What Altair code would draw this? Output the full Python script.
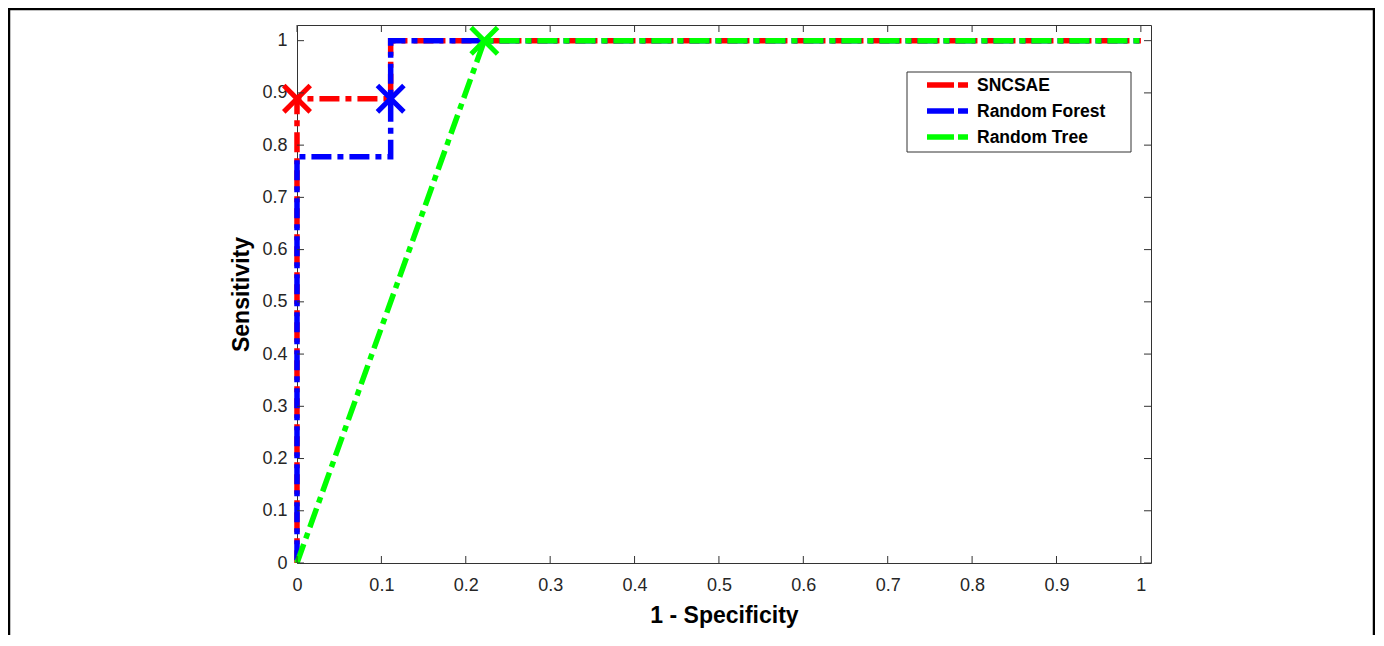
import altair as alt
import pandas as pd

# ---------------- data ----------------
series = ["SNCSAE", "Random Forest", "Random Tree"]
colors = ["#ff0000", "#0000ff", "#00ff00"]

sncsae_fpr = [0, 0, 0.111, 0.111, 1]
sncsae_tpr = [0, 0.889, 0.889, 1, 1]
rf_fpr = [0, 0, 0.111, 0.111, 1]
rf_tpr = [0, 0.778, 0.778, 1, 1]
rt_fpr = [0, 0.222, 1]
rt_tpr = [0, 1, 1]

marker_fpr = [0, 0.111, 0.222]
marker_tpr = [0.889, 0.889, 1]

tick_values = [0, 0.1, 0.2, 0.3, 0.4, 0.5, 0.6, 0.7, 0.8, 0.9, 1]

# ---------------- layout ----------------
W, H = 854, 538
FONT = "Liberation Sans"
TICK_LEN = 7
AXIS_COLOR = "#333333"
DASH = [20, 6, 6, 6]
dash_offsets = [45.2, 35.2, 0]   # phase of each series' dash pattern

xscale = alt.Scale(domain=[0, 1.012], nice=False, zero=False)
yscale = alt.Scale(domain=[0, 1.03], nice=False, zero=False)
xaxis = alt.Axis(values=tick_values, format="~g", title="1 - Specificity",
                 labelPadding=13, titlePadding=10, labelFlush=False)
yaxis = alt.Axis(values=tick_values, format="~g", title="Sensitivity",
                 labelPadding=10, titlePadding=8, labelFlush=False)
color_scale = alt.Scale(domain=series, range=colors)


def X(field="fpr"):
    return alt.X(f"{field}:Q", scale=xscale, axis=xaxis)


def Y(field="tpr"):
    return alt.Y(f"{field}:Q", scale=yscale, axis=yaxis)


def color():
    return alt.Color("series:N", scale=color_scale, legend=None)


def line_layer(name, fpr, tpr, offset):
    df = pd.DataFrame({"fpr": fpr, "tpr": tpr, "series": name,
                       "i": list(range(len(fpr)))})
    return alt.Chart(df).mark_line(
        strokeWidth=5.5, strokeDash=DASH, strokeDashOffset=offset,
        strokeCap="butt", strokeJoin="miter", clip=False
    ).encode(x=X(), y=Y(), color=color(), order="i:Q")


lines = [
    line_layer(series[0], sncsae_fpr, sncsae_tpr, dash_offsets[0]),
    line_layer(series[1], rf_fpr, rf_tpr, dash_offsets[1]),
    line_layer(series[2], rt_fpr, rt_tpr, dash_offsets[2]),
]

markers_df = pd.DataFrame({"fpr": marker_fpr, "tpr": marker_tpr, "series": series})
markers = alt.Chart(markers_df).mark_point(
    shape="M-1,-1L1,1M-1,1L1,-1", size=700, strokeWidth=5, filled=False,
    opacity=1, clip=False
).encode(x=X(), y=Y(), color=color())

# inward ticks on all four sides (MATLAB box style)
xt = pd.DataFrame({"fpr": tick_values})
yt = pd.DataFrame({"tpr": tick_values})
tick_bottom = alt.Chart(xt).mark_rule(color=AXIS_COLOR, strokeWidth=1).encode(
    x=X(), y=alt.value(H), y2=alt.value(H - TICK_LEN))
tick_top = alt.Chart(xt).mark_rule(color=AXIS_COLOR, strokeWidth=1).encode(
    x=X(), y=alt.value(0), y2=alt.value(TICK_LEN))
tick_left = alt.Chart(yt).mark_rule(color=AXIS_COLOR, strokeWidth=1).encode(
    y=Y(), x=alt.value(0), x2=alt.value(TICK_LEN))
tick_right = alt.Chart(yt).mark_rule(color=AXIS_COLOR, strokeWidth=1).encode(
    y=Y(), x=alt.value(W), x2=alt.value(W - TICK_LEN))

# legend (drawn manually, MATLAB style)
one = pd.DataFrame({"a": [0]})
legend_box = alt.Chart(one).mark_rect(
    fill="white", stroke=AXIS_COLOR, strokeWidth=1
).encode(x=alt.value(610), x2=alt.value(834), y=alt.value(47), y2=alt.value(127))
legend_layers = [legend_box]
row_y = [60, 86, 112]
for name, col, ry in zip(series, colors, row_y):
    d = pd.DataFrame({"label": [name]})
    legend_layers.append(
        alt.Chart(d).mark_rule(color=col, strokeWidth=5.5, strokeDash=[27, 4, 11, 4],
                               strokeCap="butt")
        .encode(x=alt.value(630), x2=alt.value(671), y=alt.value(ry)))
    legend_layers.append(
        alt.Chart(d).mark_text(align="left", baseline="middle", font=FONT,
                               fontSize=17.5, fontWeight="bold", color="black")
        .encode(x=alt.value(680), y=alt.value(ry + 1), text="label:N"))

# outer frame of the figure
frame = alt.Chart(one).mark_rect(
    fillOpacity=0, stroke="black", strokeWidth=2.5, clip=False
).encode(x=alt.value(-288), x2=alt.value(1077), y=alt.value(-16), y2=alt.value(700))

chart = alt.layer(
    frame, *lines, markers, tick_bottom, tick_top, tick_left, tick_right, *legend_layers
).properties(
    width=W, height=H,
    autosize=alt.AutoSizeParams(type="none"),
    padding={"left": 289, "top": 17, "right": 224, "bottom": 72},
    background="white",
).configure_view(
    stroke=AXIS_COLOR, strokeWidth=1
).configure_axis(
    grid=False, domain=False, ticks=False,
    labelFont=FONT, labelFontSize=18, labelColor="#262626",
    titleFont=FONT, titleFontSize=23, titleFontWeight="bold", titleColor="black",
)

chart.save("out.html", embed_options={"renderer": "svg", "actions": False})
